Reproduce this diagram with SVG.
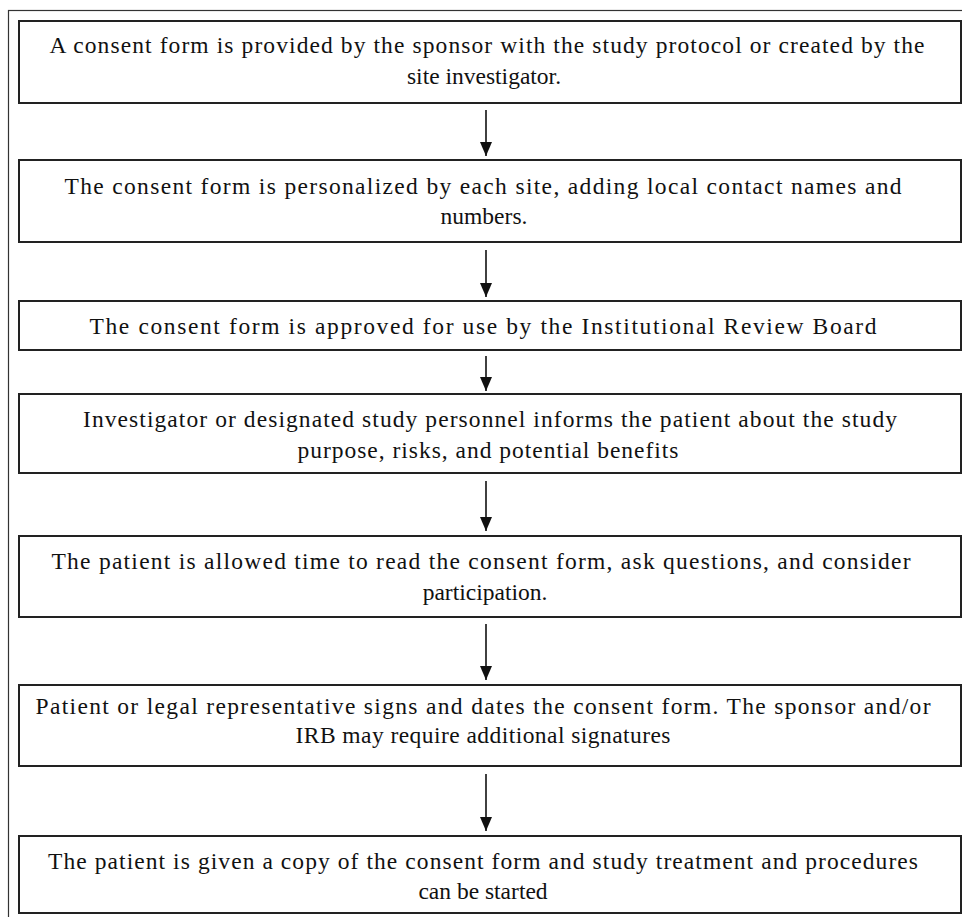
<svg xmlns="http://www.w3.org/2000/svg" width="962" height="917" viewBox="0 0 962 917">
<defs>
<style>
.box{fill:#fff;stroke:#222;stroke-width:2}
.frame{fill:#fff;stroke:#333;stroke-width:1.2}
text{font-family:"Liberation Serif","Times New Roman",serif;font-size:23.5px;fill:#111;text-anchor:middle}
.conn line{stroke:#111;stroke-width:1.6}
</style>
<marker id="ah" markerWidth="14" markerHeight="12" refX="14" refY="6" orient="auto" markerUnits="userSpaceOnUse" viewBox="0 0 14 12">
<path d="M0,0 L14,6 L0,12 Z" fill="#111"/>
</marker>
</defs>
<rect class="frame" x="8.5" y="10.5" width="960" height="910"/>
<g id="n1">
<rect class="box" x="19" y="21" width="942" height="82"/>
<text x="487" y="53" textLength="875" lengthAdjust="spacing">A consent form is provided by the sponsor with the study protocol or created by the</text>
<text x="484" y="84">site investigator.</text>
</g>
<g id="n2">
<rect class="box" x="19" y="160" width="942" height="82"/>
<text x="483" y="194" textLength="837" lengthAdjust="spacing">The consent form is personalized by each site, adding local contact names and</text>
<text x="484" y="224">numbers.</text>
</g>
<g id="n3">
<rect class="box" x="19" y="301" width="942" height="49"/>
<text x="483" y="334" textLength="787" lengthAdjust="spacing">The consent form is approved for use by the Institutional  Review Board</text>
</g>
<g id="n4">
<rect class="box" x="19" y="394" width="942" height="79"/>
<text x="490" y="427" textLength="814" lengthAdjust="spacing">Investigator or designated study personnel informs the patient about the study</text>
<text x="488" y="458" textLength="381" lengthAdjust="spacing">purpose, risks, and potential benefits</text>
</g>
<g id="n5">
<rect class="box" x="19" y="536" width="942" height="81"/>
<text x="481" y="569" textLength="859" lengthAdjust="spacing">The patient is allowed time to read the consent form, ask questions, and consider</text>
<text x="485" y="600">participation.</text>
</g>
<g id="n6">
<rect class="box" x="19" y="685" width="942" height="81"/>
<text x="483" y="714" textLength="895" lengthAdjust="spacing">Patient or legal representative signs and dates the consent form. The sponsor and/or</text>
<text x="483" y="743" textLength="375" lengthAdjust="spacing">IRB may require additional  signatures</text>
</g>
<g id="n7">
<rect class="box" x="19" y="836" width="942" height="77"/>
<text x="483" y="869" textLength="870" lengthAdjust="spacing">The patient is given a copy of the consent form and study treatment and procedures</text>
<text x="483" y="899">can be started</text>
</g>
<g id="connectors" class="conn">
<line x1="486" y1="110" x2="486" y2="156" marker-end="url(#ah)"/>
<line x1="486" y1="250" x2="486" y2="297" marker-end="url(#ah)"/>
<line x1="486" y1="356" x2="486" y2="391" marker-end="url(#ah)"/>
<line x1="486" y1="481" x2="486" y2="531" marker-end="url(#ah)"/>
<line x1="486" y1="624" x2="486" y2="680" marker-end="url(#ah)"/>
<line x1="486" y1="774" x2="486" y2="831" marker-end="url(#ah)"/>
</g>
</svg>
